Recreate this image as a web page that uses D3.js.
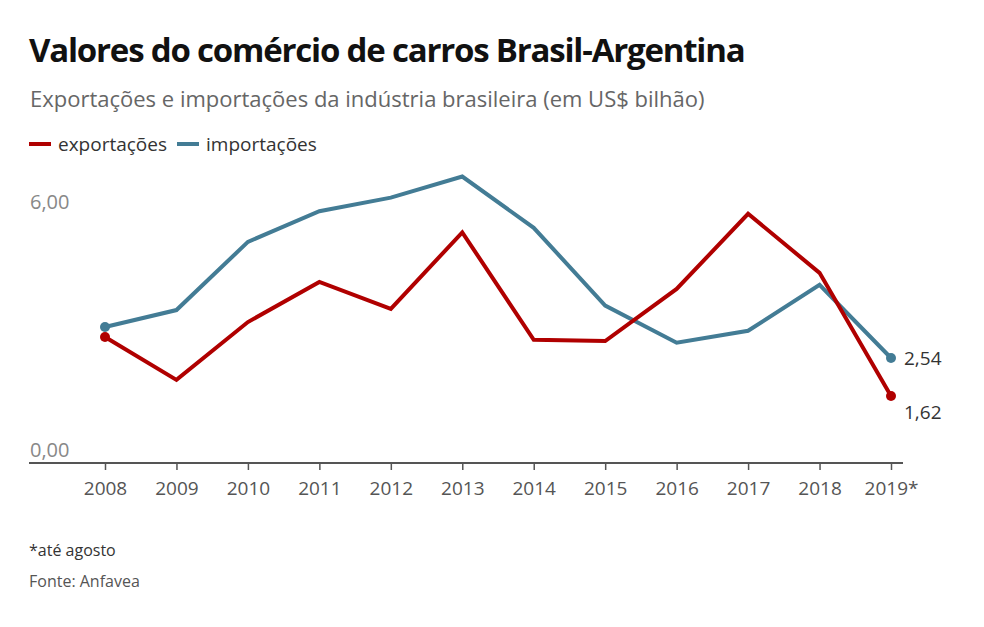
<!DOCTYPE html>
<html>
<head>
<meta charset="utf-8">
<script src="https://cdn.jsdelivr.net/npm/d3@7"></script>
<style>
  body { margin: 0; background: #fff; }
  text { font-family: "Open Sans", sans-serif; }
</style>
</head>
<body>
<svg id="chart"></svg>
<script>
const years = ["2008", "2009", "2010", "2011", "2012", "2013", "2014", "2015", "2016", "2017", "2018", "2019*"];
const exportacoes = [3.05, 2.01, 3.41, 4.38, 3.73, 5.58, 2.98, 2.95, 4.21, 6.03, 4.60, 1.62];
const importacoes = [3.29, 3.70, 5.35, 6.09, 6.42, 6.93, 5.69, 3.81, 2.91, 3.20, 4.31, 2.54];
const yTicks = [0, 6];

const w = 984, h = 627;
const red = "#b00000", blue = "#437c95";

const svg = d3.select("#chart").attr("width", w).attr("height", h);

svg.append("text").attr("x", 29).attr("y", 62)
  .attr("font-size", 33).attr("font-weight", 700).attr("fill", "#111")
  .attr("letter-spacing", -1.2)
  .text("Valores do comércio de carros Brasil-Argentina");
svg.append("text").attr("x", 30).attr("y", 107)
  .attr("font-size", 22).attr("fill", "#666")
  .text("Exportações e importações da indústria brasileira (em US$ bilhão)");

// legend
const legend = [{ name: "exportações", color: red, x: 29 }, { name: "importações", color: blue, x: 177 }];
legend.forEach(l => {
  svg.append("line").attr("x1", l.x).attr("x2", l.x + 22).attr("y1", 144).attr("y2", 144)
    .attr("stroke", l.color).attr("stroke-width", 4);
  svg.append("text").attr("x", l.x + 29).attr("y", 151)
    .attr("font-size", 19).attr("fill", "#333").text(l.name);
});

const x = d3.scalePoint().domain(years).range([105, 891]);
const y = d3.scaleLinear().domain([0, 6]).range([463, 215]);

// y labels
svg.selectAll(".ylab").data(yTicks).enter().append("text")
  .attr("x", 30).attr("y", d => y(d) - 6)
  .attr("font-size", 20).attr("fill", "#888")
  .text(d => d3.format(".2f")(d).replace(".", ","));

// x axis
const xAxis = d3.axisBottom(x).tickSize(7).tickSizeOuter(0).tickPadding(12);
const gx = svg.append("g").attr("transform", `translate(0, ${y(0)})`).call(xAxis);
gx.select(".domain").remove();
gx.append("line").attr("x1", 29).attr("x2", 903).attr("y1", 0).attr("y2", 0)
  .attr("stroke", "#555").attr("stroke-width", 2);
gx.selectAll(".tick line").attr("stroke", "#555").attr("stroke-width", 1.5);
gx.selectAll(".tick text").attr("font-size", 19).attr("fill", "#555")
  .attr("font-family", "Open Sans, sans-serif");

const line = d3.line().x((d, i) => x(years[i])).y(d => y(d));

const series = [{ values: importacoes, color: blue }, { values: exportacoes, color: red }];
series.forEach(s => {
  svg.append("path").datum(s.values).attr("d", line)
    .attr("fill", "none").attr("stroke", s.color).attr("stroke-width", 4)
    .attr("stroke-linejoin", "miter");
  [0, s.values.length - 1].forEach(i => {
    svg.append("circle").attr("cx", x(years[i])).attr("cy", y(s.values[i])).attr("r", 5)
      .attr("fill", s.color);
  });
});

// end labels
const last = years.length - 1;
svg.append("text").attr("x", 904).attr("y", y(importacoes[last]) + 7)
  .attr("font-size", 19).attr("fill", "#333")
  .text(d3.format(".2f")(importacoes[last]).replace(".", ","));
svg.append("text").attr("x", 904).attr("y", y(exportacoes[last]) + 23)
  .attr("font-size", 19).attr("fill", "#333")
  .text(d3.format(".2f")(exportacoes[last]).replace(".", ","));

// footnotes
svg.append("text").attr("x", 29).attr("y", 556)
  .attr("font-size", 16).attr("fill", "#333").text("*até agosto");
svg.append("text").attr("x", 29).attr("y", 587)
  .attr("font-size", 16).attr("fill", "#555").text("Fonte: Anfavea");
</script>
</body>
</html>
